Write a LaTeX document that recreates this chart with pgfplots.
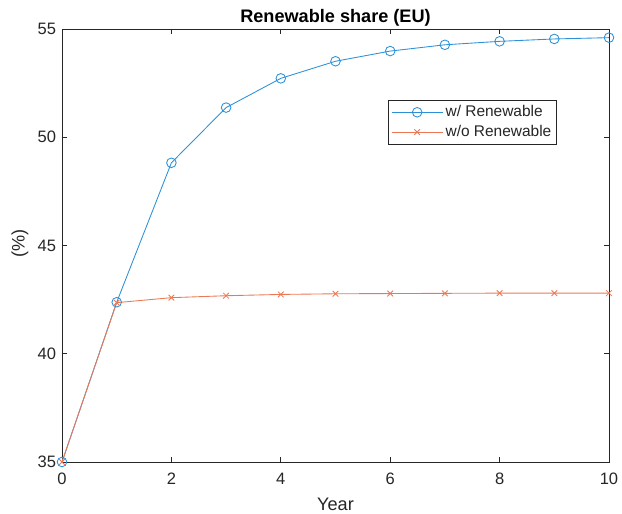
\documentclass[border=0pt]{standalone}
\usepackage{pgfplots}
\pgfplotsset{compat=1.18}
\usepackage{fontspec}
\setmainfont{Liberation Sans}
\definecolor{mblue}{RGB}{45,145,215}
\definecolor{morange}{RGB}{235,120,85}
\definecolor{axgray}{RGB}{38,38,38}
\begin{document}
\begin{tikzpicture}
\begin{axis}[
  name=ax,
  scale only axis,
  width=410.25pt, height=324.75pt,
  xmin=0, xmax=10, ymin=35, ymax=55,
  xtick={0,2,4,6,8,10},
  ytick={35,40,45,50,55},
  axis line style={axgray, line width=0.6pt},
  tick style={axgray, line width=0.6pt},
  major tick length=4pt,
  tick align=inside,
  xtick pos=both, ytick pos=both,
  xticklabel pos=lower, yticklabel pos=left,
  /pgf/number format/assume math mode=true,
  tick label style={font=\fontsize{12.4}{14}\selectfont, text=axgray},
  xticklabel style={yshift=-4.5pt},
  yticklabel style={xshift=-1pt},
  every axis title shift=0pt,
  title={\textbf{Renewable share (EU)}},
  title style={font=\fontsize{13.6}{15}\selectfont, at={(axis description cs:0.5,1.014)}, anchor=base},
  xlabel={Year},
  xlabel style={font=\fontsize{13.6}{15}\selectfont, text=axgray, at={(axis description cs:0.5,-0.113)}, anchor=base},
  ylabel={(\%)},
  ylabel style={font=\fontsize{13.6}{15}\selectfont, text=axgray, at={(axis description cs:-0.077,0.505)}, anchor=center},
  legend style={at={(0.905,0.836)}, anchor=north east, draw=axgray, line width=0.5pt,
    font=\fontsize{11.6}{14}\selectfont, text=axgray, inner sep=2pt,
    row sep=1pt, cells={anchor=west}},
  legend image code/.code={\draw[mark repeat=2,mark phase=2] plot coordinates {(0pt,0pt)(19pt,0pt)(38pt,0pt)};},
]
\addplot[mblue, line width=0.65pt, mark=o, mark size=3.6pt, mark options={line width=0.65pt}]
coordinates {(0,35) (1,42.38) (2,48.82) (3,51.37) (4,52.72) (5,53.51) (6,53.98) (7,54.27) (8,54.43) (9,54.54) (10,54.6)};
\addlegendentry{w/ Renewable}
\addplot[morange, line width=0.65pt, mark=x, mark size=3pt, mark options={line width=0.65pt}]
coordinates {(0,35) (1,42.36) (2,42.59) (3,42.68) (4,42.74) (5,42.77) (6,42.78) (7,42.79) (8,42.8) (9,42.8) (10,42.8)};
\addlegendentry{w/o Renewable}
\end{axis}
\pgfresetboundingbox
\path[use as bounding box] ([xshift=-46.5pt,yshift=-39pt]ax.south west) rectangle ([xshift=9.75pt,yshift=21.75pt]ax.north east);
\end{tikzpicture}
\end{document}
